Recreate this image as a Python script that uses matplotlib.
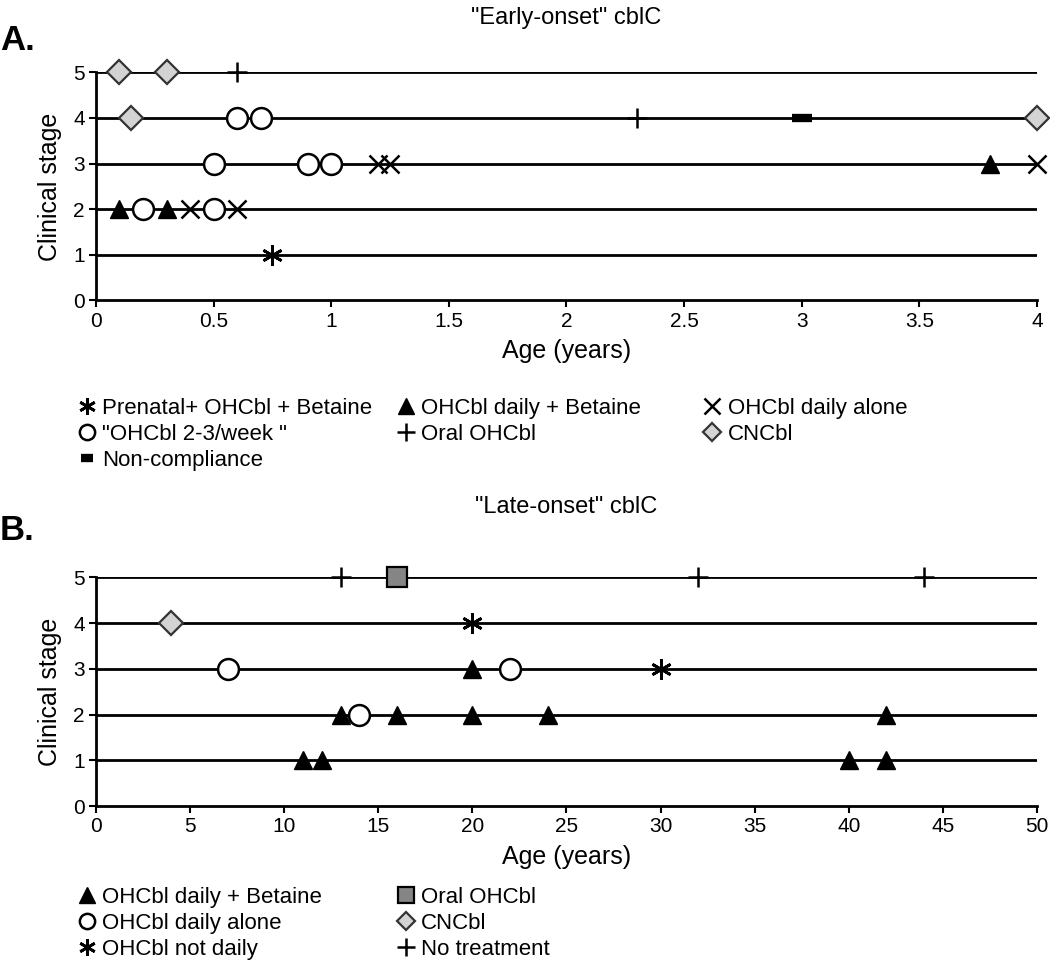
import numpy as np
import matplotlib
matplotlib.use('Agg')
import matplotlib.pyplot as plt
from matplotlib.lines import Line2D

plt.rcParams['font.family'] = ['Liberation Sans', 'DejaVu Sans']

# ---- data : panel A ("Early-onset")
a_stages = [1, 2, 3, 4, 5]
a_xticks = [0, 0.5, 1, 1.5, 2, 2.5, 3, 3.5, 4]
a_xticklabels = ['0', '0.5', '1', '1.5', '2', '2.5', '3', '3.5', '4']

a_prenatal_x = [0.75]
a_prenatal_y = [1]
a_daily_bet_x = [0.1, 0.3, 3.8]
a_daily_bet_y = [2, 2, 3]
a_daily_alone_x = [0.4, 0.6, 1.2, 1.25, 4.0]
a_daily_alone_y = [2, 2, 3, 3, 3]
a_weekly_x = [0.2, 0.5, 0.5, 0.9, 1.0, 0.6, 0.7]
a_weekly_y = [2, 2, 3, 3, 3, 4, 4]
a_oral_x = [0.6, 2.3]
a_oral_y = [5, 4]
a_cncbl_x = [0.1, 0.3, 0.15, 4.0]
a_cncbl_y = [5, 5, 4, 4]
a_noncomp_x = [3.0]
a_noncomp_y = [4]

# ---- data : panel B ("Late-onset")
b_stages = [1, 2, 3, 4, 5]
b_xticks = [0, 5, 10, 15, 20, 25, 30, 35, 40, 45, 50]

b_daily_bet_x = [20, 13, 16, 20, 24, 42, 11, 12, 40, 42]
b_daily_bet_y = [3, 2, 2, 2, 2, 2, 1, 1, 1, 1]
b_daily_alone_x = [7, 22, 14]
b_daily_alone_y = [3, 3, 2]
b_not_daily_x = [20, 30]
b_not_daily_y = [4, 3]
b_oral_x = [16]
b_oral_y = [5]
b_cncbl_x = [4]
b_cncbl_y = [4]
b_none_x = [13, 32, 44]
b_none_y = [5, 5, 5]

# marker styles
ast = (6, 2, 0)
sty = {
    'prenatal': dict(marker=ast, ms=15, mec='black', mew=2, color='black'),
    'daily_bet': dict(marker='^', ms=13, mfc='black', mec='black', color='black'),
    'daily_alone_x': dict(marker='x', ms=13, mec='black', mew=1.8, color='black'),
    'circle': dict(marker='o', ms=15, mfc='white', mec='black', mew=1.8, color='black'),
    'plus': dict(marker='+', ms=15, mec='black', mew=1.8, color='black'),
    'diamond': dict(marker='D', ms=12, mfc='#d3d3d3', mec='#333333', mew=1.6, color='black'),
    'noncomp': dict(marker='_', ms=15, mec='black', mew=6, color='black'),
    'square': dict(marker='s', ms=14, mfc='#858585', mec='black', mew=1.6, color='black'),
}


def style_axes(ax, xmax, xticks, xticklabels):
    ax.set_xlim(0, xmax)
    ax.set_ylim(0, 5)
    ax.spines['top'].set_visible(False)
    ax.spines['right'].set_visible(False)
    ax.spines['left'].set_linewidth(2)
    ax.spines['bottom'].set_linewidth(2)
    ax.set_xticks(xticks)
    ax.set_xticklabels(xticklabels)
    ax.set_yticks([0, 1, 2, 3, 4, 5])
    ax.tick_params(axis='both', direction='out', length=5, width=1.5, labelsize=15, pad=3)
    ax.set_ylabel('Clinical stage', fontsize=18, labelpad=8)
    ax.set_xlabel('Age (years)', fontsize=18, labelpad=6)


fig = plt.figure(figsize=(10.5, 9.69), dpi=100)

# ---------------- panel A
ax1 = fig.add_axes([0.0914, 0.690, 0.8962, 0.2353])
for st in a_stages:
    ax1.axhline(st, color='black', lw=2, zorder=1)
ax1.plot(a_daily_bet_x, a_daily_bet_y, ls='none', zorder=3, clip_on=False, **sty['daily_bet'])
ax1.plot(a_weekly_x, a_weekly_y, ls='none', zorder=4, clip_on=False, **sty['circle'])
ax1.plot(a_daily_alone_x, a_daily_alone_y, ls='none', zorder=4, clip_on=False, **sty['daily_alone_x'])
ax1.plot(a_prenatal_x, a_prenatal_y, ls='none', zorder=4, clip_on=False, **sty['prenatal'])
ax1.plot(a_oral_x, a_oral_y, ls='none', zorder=4, clip_on=False, **sty['plus'])
ax1.plot(a_cncbl_x, a_cncbl_y, ls='none', zorder=4, clip_on=False, **sty['diamond'])
ax1.plot(a_noncomp_x, a_noncomp_y, ls='none', zorder=4, clip_on=False, **sty['noncomp'])
style_axes(ax1, 4, a_xticks, a_xticklabels)
fig.text(0.539, 0.981, '"Early-onset" cblC', ha='center', va='center', fontsize=17)
fig.text(0.0, 0.958, 'A.', ha='left', va='center', fontsize=25, fontweight='bold')

# ---------------- panel B
ax2 = fig.add_axes([0.0914, 0.168, 0.8962, 0.2363])
for st in b_stages:
    ax2.axhline(st, color='black', lw=2, zorder=1)
ax2.plot(b_daily_bet_x, b_daily_bet_y, ls='none', zorder=3, clip_on=False, **sty['daily_bet'])
ax2.plot(b_daily_alone_x, b_daily_alone_y, ls='none', zorder=4, clip_on=False, **sty['circle'])
ax2.plot(b_not_daily_x, b_not_daily_y, ls='none', zorder=4, clip_on=False, **sty['prenatal'])
ax2.plot(b_oral_x, b_oral_y, ls='none', zorder=4, clip_on=False, **sty['square'])
ax2.plot(b_cncbl_x, b_cncbl_y, ls='none', zorder=4, clip_on=False, **sty['diamond'])
ax2.plot(b_none_x, b_none_y, ls='none', zorder=4, clip_on=False, **sty['plus'])
style_axes(ax2, 50, b_xticks, [str(v) for v in b_xticks])
fig.text(0.539, 0.477, '"Late-onset" cblC', ha='center', va='center', fontsize=17)
fig.text(0.0, 0.453, 'B.', ha='left', va='center', fontsize=25, fontweight='bold')


def h(key, label, ms=None):
    kw = dict(sty[key])
    if ms is not None:
        kw['ms'] = ms
    return Line2D([], [], ls='none', label=label, **kw)


def column(handles, x, y):
    leg = fig.legend(handles=handles, loc='upper left', bbox_to_anchor=(x, y),
                     frameon=False, fontsize=16, handlelength=0.8, handletextpad=0.3,
                     labelspacing=0.22, borderpad=0, borderaxespad=0)
    return leg


# legend A (three columns)
column([h('prenatal', 'Prenatal+ OHCbl + Betaine', 12),
        h('circle', '"OHCbl 2-3/week "', 11),
        h('noncomp', 'Non-compliance', 9)], 0.074, 0.589)
column([h('daily_bet', 'OHCbl daily + Betaine', 11),
        h('plus', 'Oral OHCbl', 13)], 0.378, 0.589)
column([h('daily_alone_x', 'OHCbl daily alone', 11),
        h('diamond', 'CNCbl', 9)], 0.670, 0.589)

# legend B (two columns)
column([h('daily_bet', 'OHCbl daily + Betaine', 11),
        h('circle', 'OHCbl daily alone', 11),
        h('prenatal', 'OHCbl not daily', 12)], 0.074, 0.0845)
column([h('square', 'Oral OHCbl', 11),
        h('diamond', 'CNCbl', 9),
        h('plus', 'No treatment', 13)], 0.378, 0.0845)

fig.savefig('out.png', dpi=100)
